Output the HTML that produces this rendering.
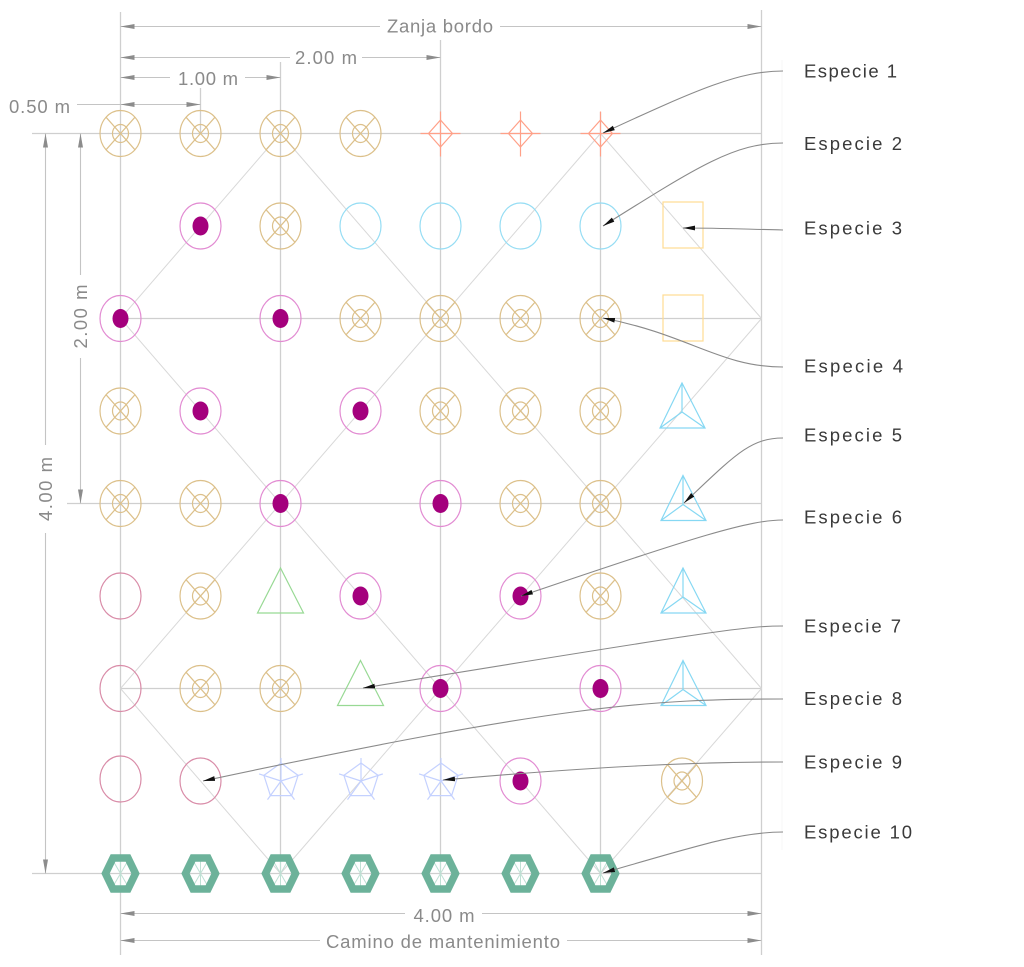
<!DOCTYPE html>
<html>
<head>
<meta charset="utf-8">
<style>
html,body{margin:0;padding:0;background:#fff;}
svg{display:block;}
.dt{font-family:"Liberation Sans",Arial,sans-serif;font-size:18.5px;fill:#8a8a8a;}
.lg{font-family:"Liberation Sans",Arial,sans-serif;font-size:18.5px;fill:#3a3a3a;}
</style>
</head>
<body>
<svg width="1024" height="967" viewBox="0 0 1024 967" xmlns="http://www.w3.org/2000/svg">
<defs>
  <marker id="da" viewBox="0 0 14 6" refX="14" refY="3" markerWidth="14" markerHeight="6" markerUnits="userSpaceOnUse" orient="auto-start-reverse">
    <path d="M0,0.5 L14,3 L0,5.5 Z" fill="#8c8c8c"/>
  </marker>
  <marker id="la" viewBox="0 0 12 6" refX="12" refY="3" markerWidth="12" markerHeight="6" markerUnits="userSpaceOnUse" orient="auto">
    <path d="M0,0.6 L12,3 L0,5.4 Z" fill="#111"/>
  </marker>
  <g id="tan" fill="none" stroke="#dcc08a" stroke-width="1.2">
    <ellipse rx="20.5" ry="23"/>
    <ellipse rx="8" ry="9"/>
    <line x1="-14.5" y1="-16.3" x2="14.5" y2="16.3"/>
    <line x1="14.5" y1="-16.3" x2="-14.5" y2="16.3"/>
  </g>
  <g id="mag">
    <ellipse rx="20.5" ry="23" fill="none" stroke="#e28bd2" stroke-width="1.2"/>
    <ellipse rx="8" ry="9.5" fill="#a4007d"/>
  </g>
  <g id="pink"><ellipse rx="20.5" ry="23" fill="none" stroke="#d98ca8" stroke-width="1.2"/></g>
  <g id="cyan"><ellipse rx="20.5" ry="23" fill="none" stroke="#96ddf4" stroke-width="1.2"/></g>
  <g id="sq"><rect x="-20" y="-23" width="40" height="46" fill="none" stroke="#ffdb92" stroke-width="1.2"/></g>
  <g id="red" fill="none" stroke="#ffa088" stroke-width="1.2">
    <path d="M0,-13.5 L12,0 L0,13.5 L-12,0 Z"/>
    <line x1="-20" y1="0" x2="20" y2="0"/>
    <line x1="0" y1="-22" x2="0" y2="23"/>
  </g>
  <g id="tri" fill="none" stroke="#86d8f3" stroke-width="1.2">
    <path d="M0,-28 L23,17 L-22,17 Z"/>
    <path d="M0,-28 L0,1 M-22,17 L0,1 L23,17"/>
  </g>
  <g id="gtri" fill="none" stroke="#98d994" stroke-width="1.2">
    <path d="M0,-27 L23,18 L-23,18 Z"/>
  </g>
  <g id="pent" fill="none" stroke="#c4d1ff" stroke-width="1.2">
    <path d="M0,-18 L17.1,-5.6 L10.6,14.6 L-10.6,14.6 L-17.1,-5.6 Z"/>
    <path d="M0,0 L0,-23 M0,0 L21.9,-7.1 M0,0 L13.5,18.6 M0,0 L-13.5,18.6 M0,0 L-21.9,-7.1"/>
  </g>
  <g id="hex">
    <path d="M0,-12 L0,12 M-7,-12 L7,12 M7,-12 L-7,12" stroke="#bfe0d4" stroke-width="1" fill="none"/>
    <path d="M-7.5,-15.5 L7.5,-15.5 L15,0 L7.5,15.5 L-7.5,15.5 L-15,0 Z" fill="none" stroke="#6cb29a" stroke-width="7.5"/>
  </g>
</defs>

<!-- faint legend guide -->
<line x1="782" y1="60" x2="782" y2="850" stroke="#f7f7f7" stroke-width="1"/>

<!-- grid lines -->
<g stroke="#cfcfcf" stroke-width="1.3" fill="none">
  <line x1="32" y1="133.5" x2="761.5" y2="133.5"/>
  <line x1="120.5" y1="318.5" x2="761.5" y2="318.5"/>
  <line x1="67" y1="503.5" x2="761.5" y2="503.5"/>
  <line x1="120.5" y1="688.5" x2="761.5" y2="688.5"/>
  <line x1="32" y1="873.5" x2="761.5" y2="873.5"/>
  <line x1="120.5" y1="12" x2="120.5" y2="955"/>
  <line x1="200.5" y1="88" x2="200.5" y2="133.5"/>
  <line x1="280.5" y1="62" x2="280.5" y2="873.5"/>
  <line x1="440.5" y1="40" x2="440.5" y2="873.5"/>
  <line x1="600.5" y1="112" x2="600.5" y2="873.5"/>
  <line x1="761.5" y1="10" x2="761.5" y2="955"/>
</g>

<!-- diagonals -->
<g stroke="#d8d8d8" stroke-width="1" fill="none">
  <line x1="280.5" y1="133.5" x2="761.5" y2="688.5"/>
  <line x1="280.5" y1="133.5" x2="120.5" y2="318.5"/>
  <line x1="120.5" y1="318.5" x2="600.5" y2="873.5"/>
  <line x1="600.5" y1="133.5" x2="120.5" y2="688.5"/>
  <line x1="600.5" y1="133.5" x2="761.5" y2="318.5"/>
  <line x1="761.5" y1="318.5" x2="280.5" y2="873.5"/>
  <line x1="120.5" y1="688.5" x2="280.5" y2="873.5"/>
  <line x1="761.5" y1="688.5" x2="600.5" y2="873.5"/>
</g>

<!-- dimension lines -->
<g stroke="#c4c4c4" stroke-width="1.1" fill="none">
  <line x1="120.5" y1="26.5" x2="380" y2="26.5" marker-start="url(#da)"/>
  <line x1="500" y1="26.5" x2="761.5" y2="26.5" marker-end="url(#da)"/>
  <line x1="120.5" y1="57.5" x2="290" y2="57.5" marker-start="url(#da)"/>
  <line x1="362" y1="57.5" x2="440.5" y2="57.5" marker-end="url(#da)"/>
  <line x1="120.5" y1="77.5" x2="170" y2="77.5" marker-start="url(#da)"/>
  <line x1="245" y1="77.5" x2="280.5" y2="77.5" marker-end="url(#da)"/>
  <line x1="77" y1="104.5" x2="120.5" y2="104.5"/>
  <line x1="120.5" y1="104.5" x2="200.5" y2="104.5" marker-start="url(#da)" marker-end="url(#da)"/>
  <line x1="45.5" y1="133.5" x2="45.5" y2="445" marker-start="url(#da)"/>
  <line x1="45.5" y1="533" x2="45.5" y2="873.5" marker-end="url(#da)"/>
  <line x1="80.5" y1="133.5" x2="80.5" y2="275" marker-start="url(#da)"/>
  <line x1="80.5" y1="358" x2="80.5" y2="503.5" marker-end="url(#da)"/>
  <line x1="120.5" y1="913.5" x2="405" y2="913.5" marker-start="url(#da)"/>
  <line x1="482" y1="913.5" x2="761.5" y2="913.5" marker-end="url(#da)"/>
  <line x1="120.5" y1="940.5" x2="320" y2="940.5" marker-start="url(#da)"/>
  <line x1="567" y1="940.5" x2="761.5" y2="940.5" marker-end="url(#da)"/>
</g>

<!-- dimension text -->
<text class="dt" x="440" y="32.7" text-anchor="middle" textLength="106">Zanja bordo</text>
<text class="dt" x="326" y="64" text-anchor="middle" textLength="62">2.00 m</text>
<text class="dt" x="208" y="85" text-anchor="middle" textLength="60">1.00 m</text>
<text class="dt" x="9" y="113" textLength="61">0.50 m</text>
<text class="dt" x="444" y="922" text-anchor="middle" textLength="61">4.00 m</text>
<text class="dt" x="443" y="948" text-anchor="middle" textLength="234">Camino de mantenimiento</text>
<text class="dt" transform="translate(45.5,489) rotate(-90)" x="0" y="6.5" text-anchor="middle" textLength="64">4.00 m</text>
<text class="dt" transform="translate(80.5,316.5) rotate(-90)" x="0" y="6.5" text-anchor="middle" textLength="64">2.00 m</text>

<!-- symbols -->
<use href="#tan" x="120.5" y="133.5"/>
<use href="#tan" x="200.5" y="133.5"/>
<use href="#tan" x="280.5" y="133.5"/>
<use href="#tan" x="360.5" y="133.5"/>
<use href="#red" x="440.5" y="133.5"/>
<use href="#red" x="520.5" y="133.5"/>
<use href="#red" x="600.5" y="133.5"/>

<use href="#mag" x="200.5" y="226"/>
<use href="#tan" x="280.5" y="226"/>
<use href="#cyan" x="360.5" y="226"/>
<use href="#cyan" x="440.5" y="226"/>
<use href="#cyan" x="520.5" y="226"/>
<use href="#cyan" x="600.5" y="226"/>
<use href="#sq" x="683" y="225"/>

<use href="#mag" x="120.5" y="318.5"/>
<use href="#mag" x="280.5" y="318.5"/>
<use href="#tan" x="360.5" y="318.5"/>
<use href="#tan" x="440.5" y="318.5"/>
<use href="#tan" x="520.5" y="318.5"/>
<use href="#tan" x="600.5" y="318.5"/>
<use href="#sq" x="683" y="318"/>

<use href="#tan" x="120.5" y="411"/>
<use href="#mag" x="200.5" y="411"/>
<use href="#mag" x="360.5" y="411"/>
<use href="#tan" x="440.5" y="411"/>
<use href="#tan" x="520.5" y="411"/>
<use href="#tan" x="600.5" y="411"/>
<use href="#tri" x="682" y="411"/>

<use href="#tan" x="120.5" y="503.5"/>
<use href="#tan" x="200.5" y="503.5"/>
<use href="#mag" x="280.5" y="503.5"/>
<use href="#mag" x="440.5" y="503.5"/>
<use href="#tan" x="520.5" y="503.5"/>
<use href="#tan" x="600.5" y="503.5"/>
<use href="#tri" x="683" y="503.5"/>

<use href="#pink" x="120.5" y="596"/>
<use href="#tan" x="200.5" y="596"/>
<use href="#gtri" x="280.5" y="595"/>
<use href="#mag" x="360.5" y="596"/>
<use href="#mag" x="520.5" y="596"/>
<use href="#tan" x="600.5" y="596"/>
<use href="#tri" x="683" y="596"/>

<use href="#pink" x="120.5" y="688.5"/>
<use href="#tan" x="200.5" y="688.5"/>
<use href="#tan" x="280.5" y="688.5"/>
<use href="#gtri" x="360.5" y="687.5"/>
<use href="#mag" x="440.5" y="688.5"/>
<use href="#mag" x="600.5" y="688.5"/>
<use href="#tri" x="683" y="688.5"/>

<use href="#pink" x="120.5" y="779"/>
<use href="#pink" x="200.5" y="781"/>
<use href="#pent" x="281" y="781"/>
<use href="#pent" x="361" y="781"/>
<use href="#pent" x="441" y="781"/>
<use href="#mag" x="520.5" y="781"/>
<use href="#tan" x="682" y="781"/>

<use href="#hex" x="120.5" y="873.5"/>
<use href="#hex" x="200.5" y="873.5"/>
<use href="#hex" x="280.5" y="873.5"/>
<use href="#hex" x="360.5" y="873.5"/>
<use href="#hex" x="440.5" y="873.5"/>
<use href="#hex" x="520.5" y="873.5"/>
<use href="#hex" x="600.5" y="873.5"/>

<!-- leader lines -->
<g fill="none" stroke="#8a8a8a" stroke-width="1.1">
  <path d="M783,71 C740,71 700,88 603,133" marker-end="url(#la)"/>
  <path d="M783,143 C735,143 700,165 603,226" marker-end="url(#la)"/>
  <path d="M783,230 C740,229 720,228 683,228" marker-end="url(#la)"/>
  <path d="M783,367 C720,367 690,335 603,318" marker-end="url(#la)"/>
  <path d="M783,438 C750,438 735,455 684,503" marker-end="url(#la)"/>
  <path d="M783,520 C750,520 700,535 521,596" marker-end="url(#la)"/>
  <path d="M783,626 C750,626 730,628 363,688" marker-end="url(#la)"/>
  <path d="M783,699 C650,699 560,705 203,781" marker-end="url(#la)"/>
  <path d="M783,762 C700,762 600,766 443,780" marker-end="url(#la)"/>
  <path d="M783,832 C740,832 700,845 603,873" marker-end="url(#la)"/>
</g>

<!-- legend labels -->
<text class="lg" x="804" y="77.5" textLength="93">Especie 1</text>
<text class="lg" x="804" y="150" textLength="98">Especie 2</text>
<text class="lg" x="804" y="234.3" textLength="98">Especie 3</text>
<text class="lg" x="804" y="372.3" textLength="99">Especie 4</text>
<text class="lg" x="804" y="441.7" textLength="98">Especie 5</text>
<text class="lg" x="804" y="523.3" textLength="98">Especie 6</text>
<text class="lg" x="804" y="632.3" textLength="97">Especie 7</text>
<text class="lg" x="804" y="705" textLength="98">Especie 8</text>
<text class="lg" x="804" y="768.3" textLength="98">Especie 9</text>
<text class="lg" x="804" y="838.3" textLength="108">Especie 10</text>
</svg>
</body>
</html>
